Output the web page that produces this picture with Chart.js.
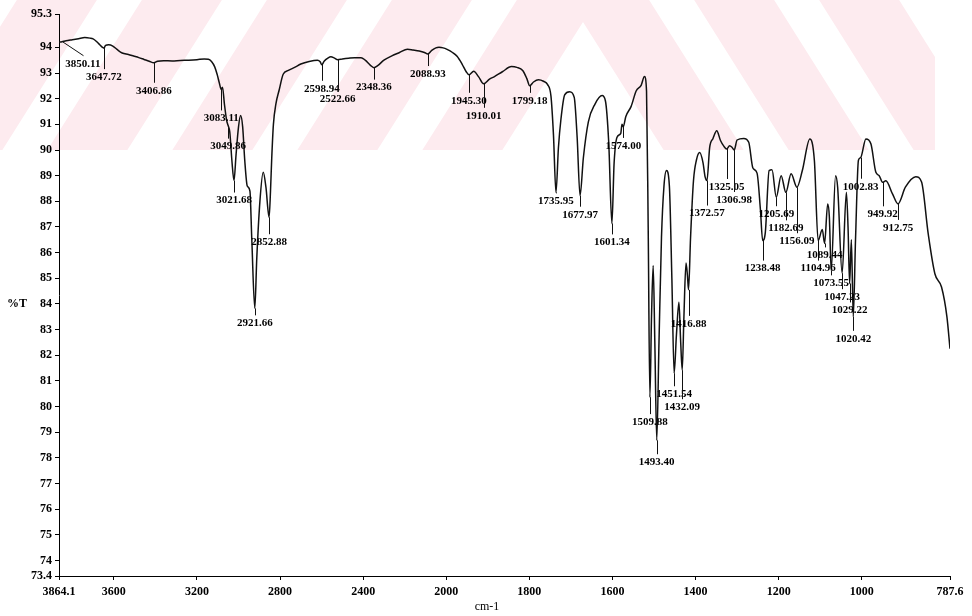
<!DOCTYPE html>
<html>
<head>
<meta charset="utf-8">
<script src="https://cdn.jsdelivr.net/npm/chart.js@4/dist/chart.umd.min.js"></script>
<style>
  html, body { margin: 0; padding: 0; background: #ffffff; }
  #wrap { width: 972px; height: 616px; position: relative; }
</style>
</head>
<body>
<div id="wrap"><canvas id="ir" width="972" height="616"></canvas></div>
<script>
// IR spectrum: wavenumber (cm-1) and transmittance (%T), high to low wavenumber
const wavenumbers = [
  3864.1, 3850.11, 3830, 3800, 3770, 3740, 3715, 3700, 3685, 3668, 3655, 3647.72, 3640, 3625, 3605,
  3585, 3560, 3530, 3505, 3480, 3455, 3430, 3406.86, 3390, 3360, 3320, 3280, 3240, 3200, 3165,
  3145, 3130, 3115, 3103, 3092, 3083.11, 3077, 3068, 3057, 3049.86, 3042, 3032, 3021.68, 3012, 3000,
  2990, 2980, 2970, 2958, 2945, 2936, 2921.66, 2912, 2897, 2881, 2868, 2852.88, 2846, 2840, 2832,
  2820, 2804, 2785, 2760, 2730, 2700, 2660, 2620, 2607, 2598.94, 2588, 2570, 2555, 2538, 2522.66,
  2500, 2470, 2440, 2410, 2390, 2365, 2348.36, 2330, 2300, 2262, 2225, 2187, 2160, 2130, 2105,
  2088.93, 2070, 2050, 2035, 2015, 1998, 1985, 1974, 1962, 1952, 1945.30, 1934, 1922, 1910.01, 1896,
  1884, 1865, 1843, 1830, 1816, 1806, 1799.18, 1790, 1778, 1766, 1756, 1748, 1742, 1735.95, 1730,
  1724, 1715, 1703, 1692, 1685, 1677.97, 1670, 1658, 1642, 1625, 1617, 1609, 1601.34, 1596, 1589,
  1580, 1577, 1574.00, 1568, 1555, 1543, 1531, 1523, 1518, 1514, 1509.88, 1506, 1502, 1498, 1493.40,
  1488, 1482, 1476, 1470, 1463, 1457, 1451.54, 1446, 1440, 1436, 1432.09, 1428, 1423, 1419.5, 1416.88,
  1412, 1405, 1398, 1390, 1382, 1377, 1372.57, 1366, 1358, 1349, 1340, 1332, 1325.05, 1318, 1312,
  1306.98, 1300, 1284, 1272, 1262, 1252, 1244, 1238.48, 1232, 1223, 1216, 1205.69, 1194, 1182.69, 1170,
  1156.09, 1143, 1125, 1114, 1104.96, 1095, 1089.44, 1082, 1078, 1073.55, 1063, 1058, 1047.23, 1037, 1033,
  1029.22, 1025, 1020.42, 1015, 1008, 1002.83, 990, 978, 966, 958, 949.92, 942, 926, 912.75, 895,
  870, 856, 840, 824, 808, 795, 787.6
];
const transmittance = [
  94.20, 94.22, 94.26, 94.30, 94.34, 94.38, 94.36, 94.33, 94.24, 94.10, 94.00, 93.97, 94.08, 94.10, 94.05,
  93.92, 93.78, 93.72, 93.66, 93.60, 93.53, 93.46, 93.40, 93.46, 93.48, 93.47, 93.49, 93.50, 93.52, 93.55,
  93.54, 93.45, 93.25, 92.95, 92.60, 92.36, 92.45, 91.80, 91.15, 90.95, 90.70, 89.60, 88.81, 89.80, 90.90,
  91.34, 90.90, 89.60, 88.60, 88.40, 86.50, 83.83, 85.80, 88.00, 89.13, 88.55, 87.38, 88.40, 89.70, 91.00,
  91.80, 92.35, 92.95, 93.10, 93.22, 93.35, 93.45, 93.50, 93.44, 93.32, 93.46, 93.58, 93.63, 93.58, 93.52,
  93.55, 93.58, 93.60, 93.60, 93.50, 93.30, 93.21, 93.29, 93.50, 93.67, 93.80, 93.93, 93.90, 93.86, 93.80,
  93.74, 93.88, 93.98, 94.00, 93.98, 93.92, 93.80, 93.65, 93.35, 93.05, 92.93, 93.07, 92.85, 92.58, 92.76,
  92.86, 93.05, 93.25, 93.22, 93.10, 92.78, 92.50, 92.65, 92.74, 92.68, 92.55, 92.10, 90.60, 88.35, 90.10,
  91.20, 92.15, 92.27, 92.05, 90.50, 88.22, 89.70, 91.10, 91.79, 92.12, 91.92, 90.30, 87.14, 89.50, 90.50,
  90.65, 91.00, 90.90, 91.30, 91.70, 92.30, 92.52, 92.86, 92.30, 87.00, 80.37, 83.50, 85.50, 82.50, 78.69,
  82.50, 86.60, 88.60, 89.20, 88.60, 85.00, 81.30, 82.80, 84.07, 82.60, 81.42, 83.50, 85.60, 85.10, 84.55,
  86.60, 88.80, 89.60, 89.90, 89.50, 88.95, 88.81, 90.10, 90.45, 90.75, 90.37, 90.15, 90.04, 90.17, 90.10,
  90.00, 90.39, 90.45, 90.30, 89.30, 89.10, 87.70, 86.47, 86.80, 89.20, 89.23, 88.16, 89.00, 88.35, 89.07,
  88.55, 89.20, 90.43, 89.59, 86.47, 86.90, 86.36, 87.90, 87.40, 85.31, 89.00, 88.55, 85.20, 88.35, 87.00,
  84.80, 86.50, 83.50, 86.50, 89.60, 89.70, 90.43, 90.24, 89.13, 89.00, 88.74, 88.80, 88.29, 87.90, 88.55,
  88.96, 88.75, 86.73, 85.18, 84.66, 83.50, 82.26
];

// Labelled band positions (cm-1)
const peakWavenumbers = [
  3850.11, 3647.72, 3406.86, 3083.11, 3049.86, 3021.68, 2921.66, 2852.88, 2598.94, 2522.66,
  2348.36, 2088.93, 1945.30, 1910.01, 1799.18, 1735.95, 1677.97, 1601.34, 1574.00, 1509.88,
  1493.40, 1451.54, 1432.09, 1416.88, 1372.57, 1325.05, 1306.98, 1238.48, 1205.69, 1182.69,
  1156.09, 1104.96, 1089.44, 1073.55, 1047.23, 1029.22, 1020.42, 1002.83, 949.92, 912.75
];

// Axis tick labels
const xTickValues = [3864.1, 3600, 3200, 2800, 2400, 2000, 1800, 1600, 1400, 1200, 1000, 787.6];
const yTickValues = [73.4, 74, 75, 76, 77, 78, 79, 80, 81, 82, 83, 84, 85, 86, 87, 88, 89, 90, 91, 92, 93, 94, 95.3];

// Above 2000 cm-1 the axis is compressed by a factor of two
const BREAK = 2000;
const toAxis = wn => (wn > BREAK ? BREAK + (wn - BREAK) / 2 : wn);

// Leader line lengths (px) below each labelled band, in the same order as peakWavenumbers
const leaderDrop = [
  14, 21, 20, 21, 13, 12, 7, 17, 16, 31,
  12, 12, 18, 24, 7, 1, 11, 11, 11, 17,
  14, 13, 29, 26, 25, 30, 42, 20, 9, 28,
  46, 20, 4, 5, 16, 19, 14, 21, 24, 16
];
// Horizontal slant of the leader (only the first label is pushed off the axis)
const leaderSlant = peakWavenumbers.map((w, i) => (i === 0 ? 21 : 0));

const SERIF = "'Liberation Serif', 'Times New Roman', serif";

// Faint chevron watermark band across the top of the page
const watermarkPlugin = {
  id: 'watermark',
  beforeDraw(chart) {
    const ctx = chart.ctx;
    ctx.save();
    ctx.beginPath();
    ctx.rect(0, 0, 935, 150);
    ctx.clip();
    ctx.fillStyle = '#fdebef';
    const cx = 583, m = 0.63, yb = 150;
    const pinkDepth = 80 / m, gapDepth = 45 / m;
    let a = 22;
    for (let k = 0; k < 7; k++) {
      const a2 = a, a1 = a - pinkDepth;
      ctx.beginPath();
      ctx.moveTo(cx - m * (yb - a1), yb);
      ctx.lineTo(cx, a1);
      ctx.lineTo(cx + m * (yb - a1), yb);
      ctx.lineTo(cx + m * (yb - a2), yb);
      ctx.lineTo(cx, a2);
      ctx.lineTo(cx - m * (yb - a2), yb);
      ctx.closePath();
      ctx.fill();
      a = a1 - gapDepth;
    }
    ctx.restore();
  }
};

// Band labels with leader lines, plus the axis captions
const peakLabelPlugin = {
  id: 'peakLabels',
  afterDatasetsDraw(chart) {
    const ctx = chart.ctx;
    const xs = chart.scales.x, ys = chart.scales.y;
    ctx.save();
    ctx.strokeStyle = '#111';
    ctx.lineWidth = 1;
    ctx.fillStyle = '#000';
    ctx.font = 'bold 11px ' + SERIF;
    ctx.textAlign = 'center';
    ctx.textBaseline = 'middle';
    peakWavenumbers.forEach((wn, i) => {
      const idx = wavenumbers.indexOf(wn);
      const px = xs.getPixelForValue(toAxis(wn));
      const py = ys.getPixelForValue(transmittance[idx]);
      const ex = px + leaderSlant[i];
      const ey = py + leaderDrop[i];
      ctx.beginPath();
      ctx.moveTo(Math.round(px) + 0.5, py);
      ctx.lineTo(Math.round(ex) + 0.5, ey);
      ctx.stroke();
      ctx.fillText(wn.toFixed(2), ex, ey + 8);
    });
    // axis captions
    ctx.font = 'bold 12px ' + SERIF;
    ctx.fillText('%T', 17, ys.getPixelForValue(84));
    ctx.font = '12px ' + SERIF;
    ctx.fillText('cm-1', 487, 607);
    ctx.restore();
  }
};

const tickFont = { family: SERIF, size: 12, weight: 'bold' };

new Chart(document.getElementById('ir'), {
  type: 'line',
  data: {
    datasets: [{
      data: wavenumbers.map((w, i) => ({ x: toAxis(w), y: transmittance[i] })),
      borderColor: '#111',
      borderWidth: 1.5,
      pointRadius: 0,
      fill: false,
      cubicInterpolationMode: 'monotone'
    }]
  },
  options: {
    responsive: false,
    animation: false,
    devicePixelRatio: 1,
    layout: { padding: { top: 14, right: 22, left: 0, bottom: 0 } },
    plugins: { legend: { display: false }, tooltip: { enabled: false } },
    scales: {
      x: {
        type: 'linear',
        reverse: true,
        min: toAxis(787.6),
        max: toAxis(3864.1),
        afterBuildTicks: s => { s.ticks = xTickValues.map(v => ({ value: toAxis(v) })); },
        afterFit: s => { s.height = 40; s.paddingLeft = 0; s.paddingRight = 0; },
        ticks: {
          autoSkip: false, maxRotation: 0, minRotation: 0, padding: 5,
          color: '#000', font: tickFont,
          callback: (v, i) => String(xTickValues[i])
        },
        grid: { drawOnChartArea: false, tickLength: 4, color: '#000' },
        border: { color: '#000', width: 1 }
      },
      y: {
        min: 73.4,
        max: 95.3,
        afterBuildTicks: s => { s.ticks = yTickValues.map(v => ({ value: v })); },
        afterFit: s => { s.width = 59; s.paddingTop = 0; s.paddingBottom = 0; },
        ticks: {
          autoSkip: false, padding: 3, color: '#000', font: tickFont,
          callback: (v, i) => String(yTickValues[i])
        },
        grid: { drawOnChartArea: false, tickLength: 4, color: '#000' },
        border: { color: '#000', width: 1 }
      }
    }
  },
  plugins: [watermarkPlugin, peakLabelPlugin]
});
</script>
</body>
</html>
